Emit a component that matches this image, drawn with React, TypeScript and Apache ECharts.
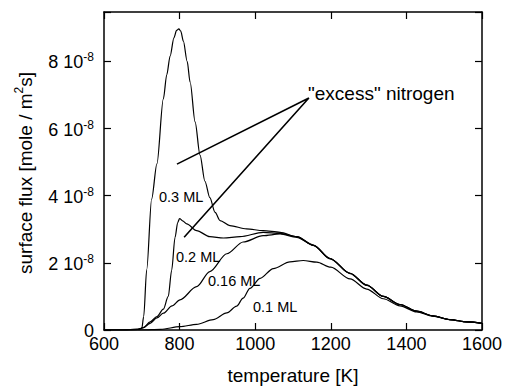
import React, { useEffect, useRef } from "react";
import * as echarts from "echarts";

// ---- axis ranges / ticks ----
const X_MIN = 600;
const X_MAX = 1600;
const X_STEP = 200;
const Y_MIN = 0;
const Y_MAX = 9.47; // in units of 1e-8 mole / m^2 s
const Y_STEP = 2;
const Y_EXPONENT = "-8";

// ---- curves (temperature [K], surface flux [1e-8 mole / m^2 s]) ----
const T_03 = [600, 650, 690, 700, 705, 713, 726, 740, 757, 766, 775, 785, 792, 798, 803, 810, 820, 828, 841, 854, 867, 880, 894, 907, 933, 977, 1021, 1066, 1110, 1154, 1198, 1251, 1295, 1339, 1383, 1427, 1470, 1515, 1560, 1600];
const F_03 = [0, 0, 0.02, 0.05, 0.4, 1.8, 3.9, 4.95, 6.88, 7.6, 8.16, 8.7, 8.92, 8.97, 8.9, 8.6, 8.0, 7.37, 6.2, 5.21, 4.43, 3.94, 3.5, 3.26, 3.11, 3.01, 2.96, 2.91, 2.78, 2.52, 2.13, 1.69, 1.34, 1.0, 0.76, 0.56, 0.42, 0.31, 0.24, 0.2];

const T_02 = [600, 650, 690, 704, 722, 740, 757, 770, 779, 788, 795, 800, 808, 819, 845, 880, 916, 960, 1021, 1066, 1110, 1154, 1198, 1251, 1295, 1339, 1383, 1427, 1470, 1515, 1560, 1600];
const F_02 = [0, 0, 0.02, 0.07, 0.24, 0.4, 0.62, 1.0, 1.78, 2.76, 3.2, 3.32, 3.25, 3.16, 2.96, 2.78, 2.74, 2.78, 2.91, 2.88, 2.78, 2.53, 2.13, 1.69, 1.34, 1.0, 0.76, 0.56, 0.42, 0.31, 0.24, 0.2];

const T_016 = [600, 650, 690, 704, 722, 740, 757, 780, 801, 845, 880, 925, 968, 1021, 1066, 1110, 1154, 1198, 1251, 1295, 1339, 1383, 1427, 1470, 1515, 1560, 1600];
const F_016 = [0, 0, 0.02, 0.07, 0.2, 0.36, 0.5, 0.72, 0.9, 1.29, 1.74, 2.27, 2.62, 2.81, 2.86, 2.76, 2.52, 2.12, 1.68, 1.33, 1.0, 0.76, 0.56, 0.42, 0.31, 0.24, 0.2];

const T_01 = [600, 700, 750, 801, 845, 889, 925, 951, 968, 986, 1013, 1048, 1092, 1127, 1163, 1200, 1251, 1295, 1339, 1383, 1427, 1470, 1515, 1560, 1600];
const F_01 = [0, 0, 0.02, 0.1, 0.17, 0.31, 0.51, 0.71, 0.95, 1.24, 1.54, 1.83, 2.03, 2.07, 2.02, 1.87, 1.52, 1.22, 0.93, 0.72, 0.54, 0.41, 0.31, 0.24, 0.2];

const CURVE_NAMES = ["0.3 ML", "0.2 ML", "0.16 ML", "0.1 ML"];

// ---- "excess" nitrogen pointer (data coordinates) ----
const EXCESS_TIP = [1142, 6.91];
const EXCESS_ENDS = [
  [793, 4.94],
  [812, 2.76],
];
const EXCESS_TEXT = '"excess" nitrogen';

const FONT = '"Liberation Sans", Arial, Helvetica, sans-serif';

export default function App() {
  const ref = useRef<HTMLDivElement>(null);

  useEffect(() => {
    document.body.style.margin = "0";
    if (!ref.current) return;
    const chart = echarts.init(ref.current, undefined, { renderer: "svg" });

    const curves = [
      { t: T_03, f: F_03 },
      { t: T_02, f: F_02 },
      { t: T_016, f: F_016 },
      { t: T_01, f: F_01 },
    ];

    const axisLine = { onZero: false, lineStyle: { color: "#000", width: 1.5 } };
    const axisTick = { inside: true, length: 7, lineStyle: { color: "#000", width: 1.2 } };

    const yFormatter = (v: number) => {
      if (Math.abs(v) < 1e-9) return "{n|0}";
      const k = v / Y_STEP;
      if (Math.abs(k - Math.round(k)) > 1e-6) return "";
      return `{n|${Math.round(v)} 10}{s|${Y_EXPONENT}}`;
    };

    const labelPositions = [
      { x: 159, y: 197 },
      { x: 176, y: 257 },
      { x: 208, y: 281 },
      { x: 253, y: 307 },
    ];

    const option: any = {
      animation: false,
      grid: { left: 104, right: 23, top: 12, bottom: 56, containLabel: false },
      xAxis: [
        {
          type: "value",
          position: "bottom",
          min: X_MIN,
          max: X_MAX,
          interval: X_STEP,
          axisLine,
          axisTick,
          splitLine: { show: false },
          axisLabel: {
            color: "#000",
            fontSize: 18,
            fontFamily: FONT,
            margin: 5,
            formatter: (v: number) => String(Math.round(v)),
          },
          name: "temperature [K]",
          nameLocation: "middle",
          nameGap: 36,
          nameTextStyle: { color: "#000", fontSize: 19, fontFamily: FONT },
        },
        {
          type: "value",
          position: "top",
          min: X_MIN,
          max: X_MAX,
          interval: X_STEP,
          axisLine,
          axisTick,
          splitLine: { show: false },
          axisLabel: { show: false },
        },
      ],
      yAxis: [
        {
          type: "value",
          position: "left",
          min: Y_MIN,
          max: Y_MAX,
          interval: Y_STEP,
          axisLine,
          axisTick,
          splitLine: { show: false },
          axisLabel: {
            color: "#000",
            margin: 10,
            formatter: yFormatter,
            rich: {
              n: { fontSize: 18, fontFamily: FONT, color: "#000", lineHeight: 20, verticalAlign: "bottom" },
              s: { fontSize: 12, fontFamily: FONT, color: "#000", lineHeight: 12, verticalAlign: "top" },
            },
          },
        },
        {
          type: "value",
          position: "right",
          min: Y_MIN,
          max: Y_MAX,
          interval: Y_STEP,
          axisLine,
          axisTick,
          splitLine: { show: false },
          axisLabel: { show: false },
        },
      ],
      series: [
        ...curves.map((c, idx) => ({
          type: "line",
          name: CURVE_NAMES[idx],
          xAxisIndex: 0,
          yAxisIndex: 0,
          data: c.t.map((t, i) => [t, c.f[i]]),
          symbol: "none",
          showSymbol: false,
          smooth: 0.3,
          smoothMonotone: "x",
          silent: true,
          lineStyle: { color: "#000", width: 1.2 },
        })),
        {
          type: "line",
          name: "excess",
          xAxisIndex: 0,
          yAxisIndex: 0,
          data: [EXCESS_ENDS[0], EXCESS_TIP, EXCESS_ENDS[1]],
          symbol: "none",
          showSymbol: false,
          silent: true,
          lineStyle: { color: "#000", width: 1.6 },
        },
      ],
      graphic: [
        ...CURVE_NAMES.map((name, i) => ({
          type: "text",
          x: labelPositions[i].x,
          y: labelPositions[i].y,
          silent: true,
          style: {
            text: name,
            fill: "#000",
            font: `14.5px ${FONT}`,
            textAlign: "left",
            textVerticalAlign: "middle",
            align: "left",
            verticalAlign: "middle",
          },
        })),
        {
          type: "text",
          x: 308,
          y: 93,
          silent: true,
          style: {
            text: EXCESS_TEXT,
            fill: "#000",
            font: `19px ${FONT}`,
            textAlign: "left",
            textVerticalAlign: "middle",
            align: "left",
            verticalAlign: "middle",
          },
        },
        {
          type: "text",
          x: 24,
          y: 173,
          rotation: Math.PI / 2,
          silent: true,
          style: {
            text: "{a|surface flux [mole / m}{s|2}{a|s]}",
            fill: "#000",
            textAlign: "center",
            textVerticalAlign: "middle",
            align: "center",
            verticalAlign: "middle",
            rich: {
              a: { fontSize: 19, fontFamily: FONT, fill: "#000", color: "#000", lineHeight: 22, verticalAlign: "bottom" },
              s: { fontSize: 12, fontFamily: FONT, fill: "#000", color: "#000", lineHeight: 12, verticalAlign: "top" },
            },
          },
        },
      ],
    };

    chart.setOption(option);
    return () => chart.dispose();
  }, []);

  return (
    <div
      ref={ref}
      style={{ position: "fixed", left: 0, top: 0, width: 505, height: 390, background: "#fff" }}
    />
  );
}
